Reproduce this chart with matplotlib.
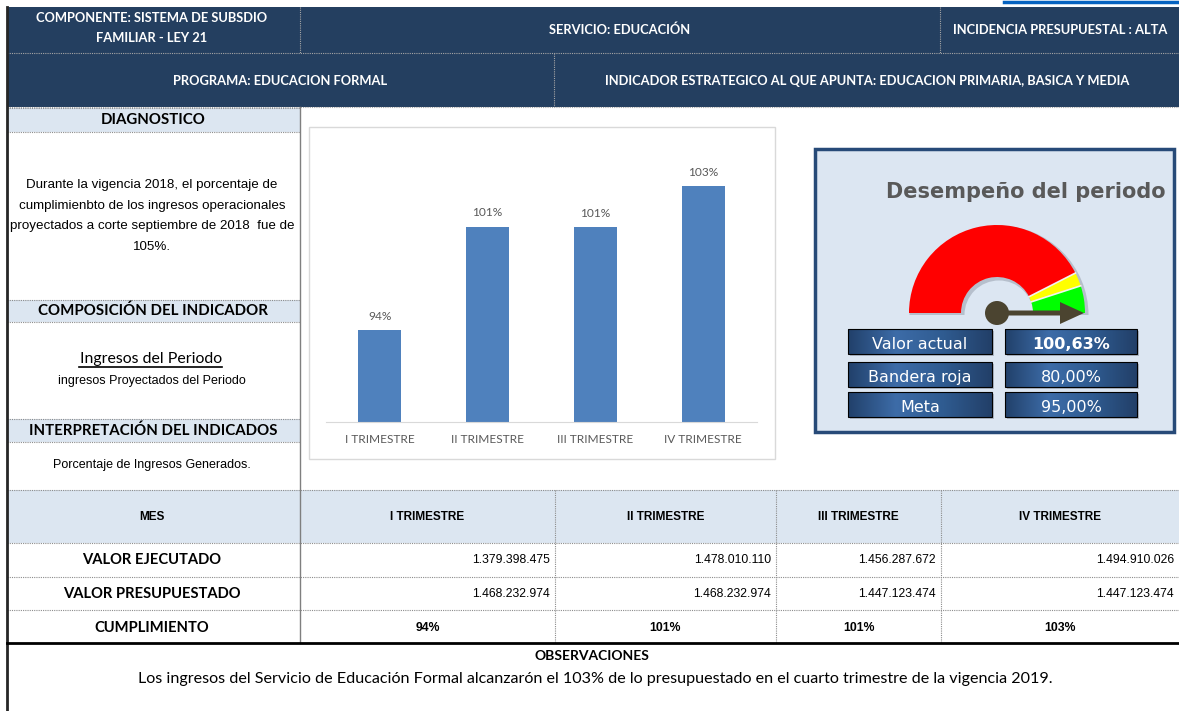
import numpy as np
import matplotlib.pyplot as plt
from matplotlib.patches import Rectangle, Wedge, Circle, FancyArrow
from matplotlib.colors import LinearSegmentedColormap
from matplotlib import font_manager

# datos
trimestres = ['I TRIMESTRE', 'II TRIMESTRE', 'III TRIMESTRE', 'IV TRIMESTRE']
ejecutado = [1379398475, 1478010110, 1456287672, 1494910026]
presupuestado = [1468232974, 1468232974, 1447123474, 1447123474]
cumplimiento = [e / p * 100 for e, p in zip(ejecutado, presupuestado)]

gauge_labels = ['Valor actual', 'Bandera roja', 'Meta']
gauge_values = [100.63, 80.00, 95.00]
gauge_cortes = [0, 85, 90, 100]

names = {f.name for f in font_manager.fontManager.ttflist}
NARROW = 'Liberation Sans Narrow' if 'Liberation Sans Narrow' in names else 'Liberation Sans'
CAL = 'Lato'
VER = 'DejaVu Sans'

NAVY = '#243F60'
LIGHT = '#DCE6F1'
GRIS = '#595959'

fig = plt.figure(figsize=(11.79, 7.11), dpi=100)
ax = fig.add_axes([0, 0, 1, 1])
ax.set_autoscale_on(False)
ax.set_xlim(0, 1179)
ax.set_ylim(711, 0)
ax.axis('off')


def cell(x0, y0, x1, y1, fc, z=1):
    ax.add_patch(Rectangle((x0, y0), x1 - x0, y1 - y0, facecolor=fc, edgecolor='none', zorder=z))


def dots(x0, y0, x1, y1, color='#8C8C8C', lw=0.8):
    ax.plot([x0, x1], [y0, y1], color=color, lw=lw, ls=(0, (1, 1)), zorder=3)


def txt(x, y, s, size, family=CAL, weight='normal', color='black', ha='center', **kw):
    return ax.text(x, y, s, fontsize=size, family=family, weight=weight, color=color,
                   ha=ha, va='center', zorder=6, **kw)


# encabezado
ax.plot([1004, 1179], [1.5, 1.5], color='#0563C1', lw=2.5, zorder=3)
cell(7, 7, 1179, 107, NAVY)
dots(7, 53, 1179, 53, '#A6A6A6')
dots(7, 107, 1179, 107, '#A6A6A6')
dots(300, 7, 300, 53, '#A6A6A6')
dots(940, 7, 940, 53, '#A6A6A6')
dots(554, 53, 554, 107, '#A6A6A6')
HS = 9.3
txt(152, 18, 'COMPONENTE: SISTEMA DE SUBSDIO', HS, weight='bold', color='white')
txt(152, 38, 'FAMILIAR - LEY 21', HS, weight='bold', color='white')
txt(620, 30, 'SERVICIO: EDUCACIÓN', HS, weight='bold', color='white')
txt(1060, 30, 'INCIDENCIA PRESUPUESTAL : ALTA', HS, weight='bold', color='white')
txt(280, 81, 'PROGRAMA: EDUCACION FORMAL', HS, weight='bold', color='white')
txt(867, 81, 'INDICADOR ESTRATEGICO AL QUE APUNTA: EDUCACION PRIMARIA, BASICA Y MEDIA', HS,
    weight='bold', color='white')

# panel izquierdo
for y0, y1, titulo in [(108, 132, 'DIAGNOSTICO'), (300, 322, 'COMPOSICIÓN DEL INDICADOR'),
                       (419, 442, 'INTERPRETACIÓN DEL INDICADOS')]:
    cell(7, y0, 300, y1, LIGHT)
    dots(7, y0, 300, y0)
    dots(7, y1, 300, y1)
    txt(153, (y0 + y1) / 2, titulo, 10.8, weight='bold')

diag = ['Durante la vigencia 2018, el porcentaje de',
        'cumplimienbto de los ingresos operacionales',
        'proyectados a corte septiembre de 2018  fue de',
        '105%.']
for i, linea in enumerate(diag):
    txt(152, 185 + i * 20.5, linea, 9.6, family=NARROW)

txt(151, 359, 'Ingresos del Periodo', 11.4)
ax.plot([79, 222], [367, 367], color='black', lw=1.2, zorder=6)
txt(152, 381, 'ingresos Proyectados del Periodo', 9, family=NARROW)
txt(152, 465, 'Porcentaje de Ingresos Generados.', 9, family=NARROW)
ax.plot([300, 300], [107, 643], color='#7F7F7F', lw=1, zorder=3)
ax.plot([7, 7], [7, 711], color='#262626', lw=2, zorder=4)

# grafico de barras
ax.add_patch(Rectangle((309, 127), 466, 332, facecolor='white', edgecolor='#D9D9D9', lw=1, zorder=2))
bx = fig.add_axes([326 / 1179, 1 - 422 / 711, (757 - 326) / 1179, (422 - 140) / 711])
bx.patch.set_alpha(0)
bars = bx.bar(range(len(trimestres)), cumplimiento, width=0.4, color='#4F81BD')
bx.set_xlim(-0.5, 3.5)
bx.set_ylim(88, 106.3)
for s in ['top', 'right', 'left']:
    bx.spines[s].set_visible(False)
bx.spines['bottom'].set_color('#D9D9D9')
bx.set_yticks([])
bx.set_xticks(range(len(trimestres)))
bx.set_xticklabels(trimestres, fontsize=8.6, family=CAL, color=GRIS)
bx.tick_params(axis='x', length=0, pad=8.5)
bx.bar_label(bars, labels=[f'{c:.0f}%' for c in cumplimiento], padding=6,
             fontsize=8.6, family=CAL, color=GRIS)

# velocimetro
ax.add_patch(Rectangle((815, 149), 359, 283, facecolor='#DCE6F2', edgecolor='#274A78', lw=2.5, zorder=2))
txt(1026, 192, 'Desempeño del periodo', 15, family=VER, weight='bold', color=GRIS)
cx, cy, r_out, ancho = 997, 313, 88, 52
ax.add_patch(Wedge((cx + 2, cy + 2), r_out + 1.5, 180, 360, width=ancho + 3,
                   facecolor='#9DA6B3', edgecolor='none', alpha=0.6, zorder=3))
for a, b, col in zip(gauge_cortes[:-1], gauge_cortes[1:], ['#FF0000', '#FFFF00', '#00FF00']):
    ax.add_patch(Wedge((cx, cy), r_out, 180 + 1.8 * a, 180 + 1.8 * b, width=ancho,
                       facecolor=col, edgecolor='none', zorder=4))
for c in gauge_cortes[1:-1]:
    t = np.deg2rad(180 + 1.8 * c)
    ax.plot([cx + (r_out - ancho) * np.cos(t), cx + r_out * np.cos(t)],
            [cy + (r_out - ancho) * np.sin(t), cy + r_out * np.sin(t)],
            color='#F2F2F2', lw=1.2, zorder=5)
t = np.deg2rad(180 + 1.8 * min(gauge_values[0], 100))
ax.add_patch(FancyArrow(cx, cy, 87 * np.cos(t), 87 * np.sin(t), width=5, head_width=22,
                        head_length=24, length_includes_head=True, facecolor='#4B4430',
                        edgecolor='none', zorder=6))
ax.add_patch(Circle((cx, cy), 12, facecolor='#4B4430', edgecolor='none', zorder=6))

cmap = LinearSegmentedColormap.from_list('caja', ['#21406A', '#3D6CA8', '#2F5B90', '#223F68'])
grad = np.linspace(0, 1, 256)[None, :]
filas = [(329, 354), (362, 387), (392, 417)]
for (y0, y1), lab, val in zip(filas, gauge_labels, gauge_values):
    for x0, x1 in [(848, 992), (1005, 1137)]:
        ax.add_patch(Rectangle((x0 + 2, y0 + 2), x1 - x0, y1 - y0, facecolor='#8E99A8',
                               edgecolor='none', alpha=0.6, zorder=3))
        ax.imshow(grad, cmap=cmap, extent=(x0, x1, y1, y0), aspect='auto', zorder=4)
        ax.add_patch(Rectangle((x0, y0), x1 - x0, y1 - y0, facecolor='none',
                               edgecolor='black', lw=0.8, zorder=5))
    txt(920, (y0 + y1) / 2 + 3, lab, 11.5, family=VER, color='white')
    txt(1071, (y0 + y1) / 2 + 3, f'{val:.2f}%'.replace('.', ','), 11.5, family=VER,
        color='white', weight='bold' if lab == 'Valor actual' else 'normal')

# tabla
cols = [7, 300, 555, 776, 941, 1179]
cell(7, 490, 1179, 543, LIGHT)
for y in [490, 543, 577, 610]:
    dots(7, y, 1179, y)
ax.plot([7, 1179], [643, 643], color='black', lw=2, zorder=4)
for x in cols[2:-1]:
    dots(x, 490, x, 643)
txt(152, 517, 'MES', 8.5, family=NARROW, weight='bold')
for i, t_ in enumerate(trimestres):
    xc = (cols[i + 1] + cols[i + 2]) / 2
    xr = cols[i + 2] - 5
    txt(xc, 517, t_, 8.5, family=NARROW, weight='bold')
    txt(xr, 560, f'{ejecutado[i]:,}'.replace(',', '.'), 8.8, family=NARROW, ha='right')
    txt(xr, 594, f'{presupuestado[i]:,}'.replace(',', '.'), 8.8, family=NARROW, ha='right')
    txt(xc, 628, f'{cumplimiento[i]:.0f}%', 8.8, family=NARROW, weight='bold')
txt(152, 560, 'VALOR EJECUTADO', 10.6, weight='bold')
txt(152, 594, 'VALOR PRESUPUESTADO', 10.6, weight='bold')
txt(152, 628, 'CUMPLIMIENTO', 10.6, weight='bold')

txt(592, 656, 'OBSERVACIONES', 10, weight='bold')
txt(595, 679, 'Los ingresos del Servicio de Educación Formal alcanzarón el 103% de lo presupuestado '
    'en el cuarto trimestre de la vigencia 2019.', 11.6)

ax.set_xlim(0, 1179)
ax.set_ylim(711, 0)
fig.savefig('out.png', dpi=100)
